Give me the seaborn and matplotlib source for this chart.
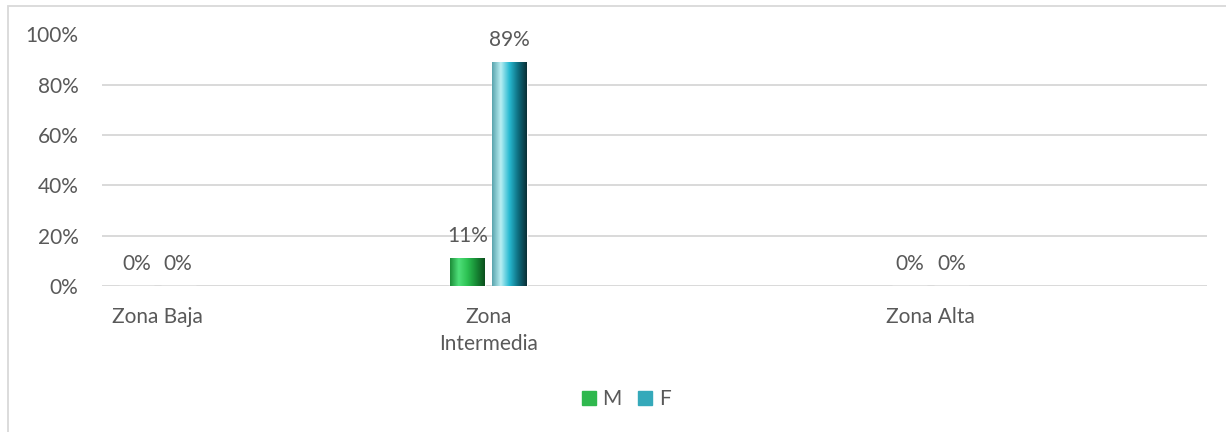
import matplotlib
matplotlib.use("Agg")
import matplotlib.pyplot as plt
import matplotlib.patches as mpatches
from matplotlib.colors import LinearSegmentedColormap
from matplotlib.lines import Line2D
from matplotlib.ticker import PercentFormatter
import numpy as np
import pandas as pd
import seaborn as sns

# data
zonas = ["Zona Baja", "Zona Intermedia", "Zona Alta"]
tick_labels = ["Zona Baja", "Zona\nIntermedia", "Zona Alta"]
series = ["M", "F"]
valores_m = [0.00, 0.11, 0.00]
valores_f = [0.00, 0.89, 0.00]

# the category axis in the original has 10 slots, most of them unlabeled
n_slots = 10
zone_slot = [0, 3, 7]

text_color = "#595959"
grid_color = "#d9d9d9"
colores = {"M": "#2fb84e", "F": "#35a9ba"}

df = pd.DataFrame({
    "zona": zonas * 2,
    "sexo": ["M"] * len(zonas) + ["F"] * len(zonas),
    "valor": valores_m + valores_f,
})

order = [" " * (i + 1) for i in range(n_slots)]
for z, s in zip(zonas, zone_slot):
    order[s] = z

sns.set_theme(style="white")
plt.rcParams["font.family"] = ["Lato", "DejaVu Sans"]

fig = plt.figure(figsize=(12.26, 4.32), dpi=100)
ax = fig.add_axes([102 / 1226, 1 - 286 / 432, 1105 / 1226, 251.5 / 432])

sns.barplot(data=df, x="zona", y="valor", hue="sexo", order=order,
            hue_order=series, palette=colores, width=0.76, gap=0.17,
            legend=False, ax=ax, zorder=3)

# bevel-ish gradient on the bars
grads = {
    "M": ["#1c8c38", "#4fe07a", "#2cc152", "#178a35", "#0b4d1c"],
    "F": ["#5aa4ad", "#b9eff3", "#27b9d1", "#0e6d7f", "#0b2f36"],
}
for cont, s in zip(ax.containers, series):
    cmap = LinearSegmentedColormap.from_list(s, grads[s])
    grad = np.linspace(0, 1, 256).reshape(1, -1)
    for bar in cont:
        h = bar.get_height()
        if h <= 0:
            continue
        x0 = bar.get_x()
        w = bar.get_width()
        im = ax.imshow(grad, cmap=cmap, aspect="auto",
                       extent=[x0, x0 + w, 0, h], zorder=4)
        im.set_clip_path(bar)
    ax.bar_label(cont, fmt="{:.0%}", padding=9, fontsize=15, color=text_color)

ax.set_xlim(-0.5, n_slots - 0.5)
ax.set_ylim(0, 1)
ax.yaxis.set_major_formatter(PercentFormatter(1.0, decimals=0))
ax.set_yticks(np.arange(0, 1.01, 0.2))
ax.set_xticks(zone_slot)
ax.set_xticklabels(tick_labels, linespacing=1.45)
ax.tick_params(axis="both", length=0, labelsize=15, labelcolor=text_color)
ax.tick_params(axis="y", pad=17)
ax.tick_params(axis="x", pad=15)
ax.set_xlabel("")
ax.set_ylabel("")
ax.grid(axis="y", color=grid_color, linewidth=1.4, zorder=0)
sns.despine(ax=ax, left=True, bottom=True)

handles = [Line2D([], [], marker="s", linestyle="", markersize=10,
                  markerfacecolor=colores[s], markeredgecolor=colores[s])
           for s in series]
fig.legend(handles, series, loc="center", bbox_to_anchor=(626 / 1226, 1 - 399 / 432),
           ncol=2, frameon=False, fontsize=15, handlelength=0.7,
           handletextpad=0.3, columnspacing=0.8, labelcolor=text_color)

# chart-area border, cut off on the right and bottom like the reference
fig.patches.append(mpatches.Rectangle((8 / 1226, -0.1), 1.2, 1 - 6 / 432 + 0.1,
                                      transform=fig.transFigure, fill=False,
                                      edgecolor=grid_color, linewidth=1.3))

fig.savefig("out.png", dpi=100)
